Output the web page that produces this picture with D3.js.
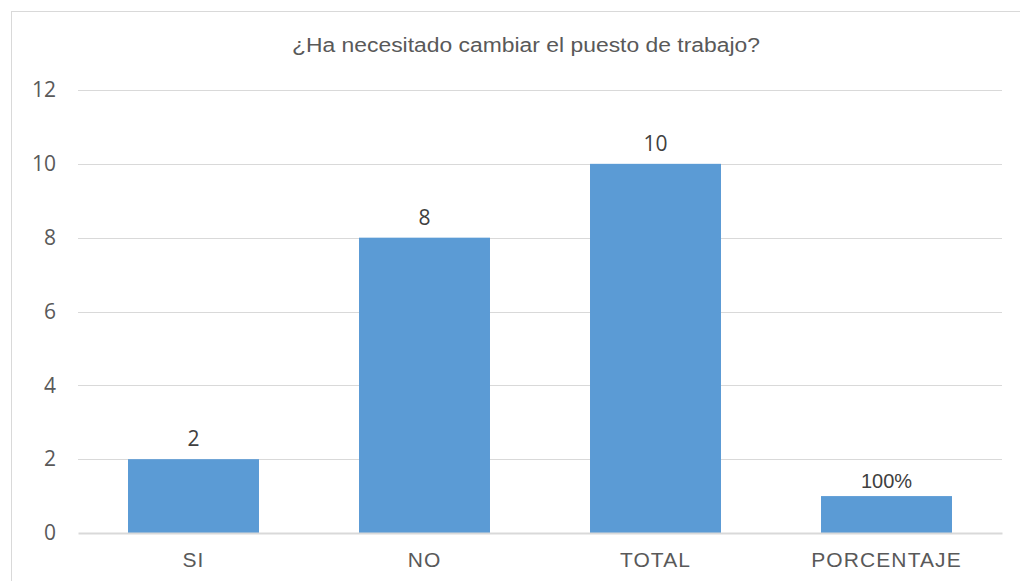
<!DOCTYPE html>
<html>
<head>
<meta charset="utf-8">
<script src="https://cdn.jsdelivr.net/npm/d3@7"></script>
<style>
  body { margin: 0; background: #fff; }
  svg { display: block; }
</style>
</head>
<body>
<div id="chart"></div>
<script>
const title = "¿Ha necesitado cambiar el puesto de trabajo?";
const categories = ["SI", "NO", "TOTAL", "PORCENTAJE"];
const values = [2, 8, 10, 1];
const valueLabels = ["2", "8", "10", "100%"];
const yTicks = [0, 2, 4, 6, 8, 10, 12];

const width = 1020;
const height = 581;
const margin = { top: 90, right: 18, bottom: 48, left: 78 };

const svg = d3.select("#chart").append("svg")
  .attr("width", width)
  .attr("height", height);

// outer chart border
svg.append("rect")
  .attr("x", 11.5).attr("y", 11.5)
  .attr("width", width + 10).attr("height", height + 10)
  .attr("fill", "none")
  .attr("stroke", "#d9d9d9");

svg.append("text")
  .attr("x", 292).attr("y", 52)
  .attr("textLength", 468)
  .attr("lengthAdjust", "spacingAndGlyphs")
  .attr("font-family", "Liberation Sans, Arial, sans-serif")
  .attr("font-size", 20)
  .attr("fill", "#595959")
  .text(title);

const x = d3.scaleBand()
  .domain(categories)
  .range([margin.left, width - margin.right])
  .paddingInner(0.433)
  .paddingOuter(0.2165);

const y = d3.scaleLinear()
  .domain([0, 12])
  .range([height - margin.bottom, margin.top]);

// gridlines
svg.append("g")
  .selectAll("line")
  .data(yTicks.filter(d => d > 0))
  .join("line")
  .attr("x1", margin.left).attr("x2", width - margin.right)
  .attr("y1", d => Math.round(y(d)) + 0.5).attr("y2", d => Math.round(y(d)) + 0.5)
  .attr("stroke", "#d9d9d9")
  .attr("stroke-width", 1);

// y axis labels
const yAxis = svg.append("g")
  .attr("transform", "translate(" + (margin.left - 22) + ",0)")
  .call(d3.axisLeft(y).tickValues(yTicks).tickSize(0).tickPadding(0));
yAxis.select(".domain").remove();
yAxis.selectAll("text")
  .attr("font-family", "Open Sans, sans-serif")
  .attr("font-size", 21)
  .attr("fill", "#595959");

// bars
svg.append("g")
  .selectAll("rect")
  .data(values)
  .join("rect")
  .attr("x", (d, i) => x(categories[i]))
  .attr("y", d => y(d))
  .attr("width", x.bandwidth())
  .attr("height", d => y(0) - y(d))
  .attr("fill", "#5b9bd5");

// value labels
svg.append("g")
  .selectAll("text")
  .data(values)
  .join("text")
  .attr("x", (d, i) => x(categories[i]) + x.bandwidth() / 2)
  .attr("y", (d, i) => y(d) - (i === 3 ? 8 : 13))
  .attr("text-anchor", "middle")
  .attr("font-family", (d, i) => i === 3 ? "Liberation Sans, Arial, sans-serif" : "Open Sans, sans-serif")
  .attr("font-size", (d, i) => i === 3 ? 20 : 21)
  .attr("fill", "#404040")
  .text((d, i) => valueLabels[i]);

// baseline + category axis
const xAxis = svg.append("g")
  .attr("transform", "translate(0," + y(0) + ")")
  .call(d3.axisBottom(x).tickSize(0));
xAxis.select(".domain")
  .attr("stroke", "#d9d9d9")
  .attr("stroke-width", 2);
xAxis.selectAll("text")
  .attr("y", 34)
  .attr("dy", null)
  .attr("font-family", "Liberation Sans, Arial, sans-serif")
  .attr("font-size", 21)
  .attr("letter-spacing", 1.1)
  .attr("fill", "#595959");
</script>
</body>
</html>
